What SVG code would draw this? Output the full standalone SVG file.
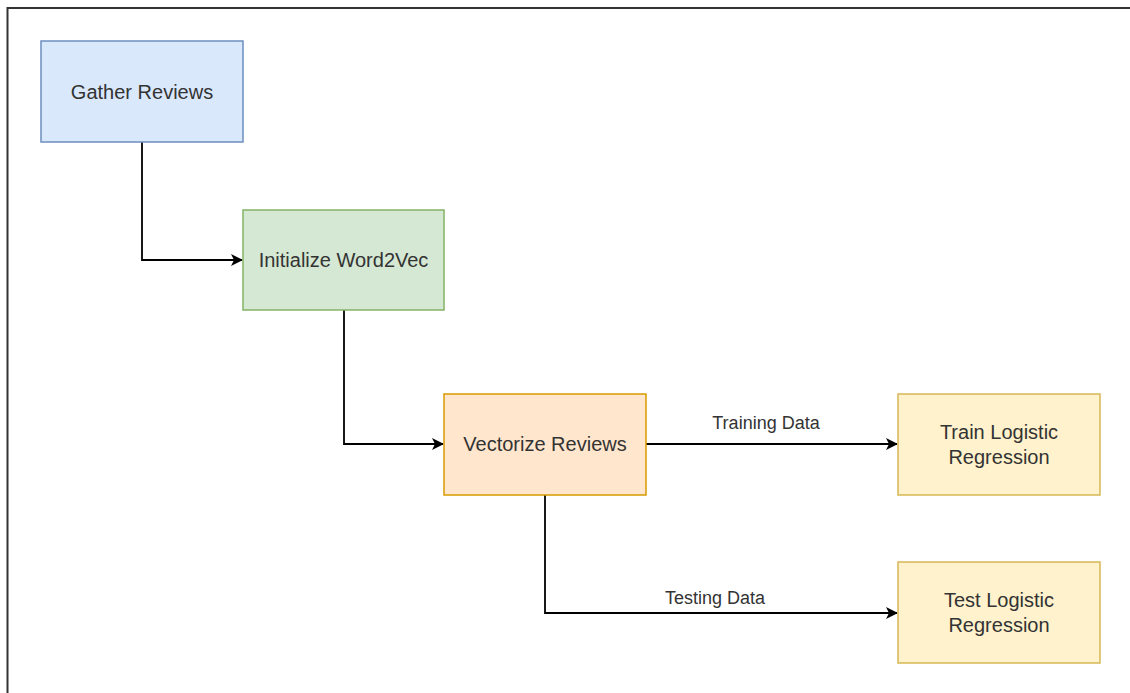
<svg xmlns="http://www.w3.org/2000/svg" width="1130" height="693" viewBox="0 0 1130 693">
  <style>
    .node rect { stroke-width: 1.5; }
    .node text { font-family: "Liberation Sans", Arial, sans-serif; font-size: 20px; fill: #333333; text-anchor: middle; dominant-baseline: central; }
    .edge { fill: none; stroke: #000000; stroke-width: 1.8; }
    .label { font-family: "Liberation Sans", Arial, sans-serif; font-size: 18px; fill: #333333; text-anchor: middle; }
    .blue { fill: #dae8fc; stroke: #6c8ebf; }
    .green { fill: #d5e8d4; stroke: #82b366; }
    .orange { fill: #ffe6cc; stroke: #d79b00; }
    .yellow { fill: #fff2cc; stroke: #d6b656; }
  </style>
  <defs>
    <marker id="arrow" viewBox="0 0 12 12" refX="11" refY="6" markerWidth="12" markerHeight="12" markerUnits="userSpaceOnUse" orient="auto">
      <path d="M0,0 L12,6 L0,12 L3,6 Z" fill="#000000"/>
    </marker>
  </defs>

  <rect x="0" y="0" width="1130" height="693" fill="#ffffff"/>
  <!-- outer frame -->
  <path d="M7.5,693 V8 H1130" fill="none" stroke="#333333" stroke-width="2"/>

  <g id="connectors">
    <path class="edge" d="M142,142 V260 H242" marker-end="url(#arrow)"/>
    <path class="edge" d="M344,310 V444 H443" marker-end="url(#arrow)"/>
    <path class="edge" d="M646,444 H897" marker-end="url(#arrow)"/>
    <path class="edge" d="M545,495 V613 H897" marker-end="url(#arrow)"/>
    <text class="label" x="766" y="429">Training Data</text>
    <text class="label" x="715" y="604">Testing Data</text>
  </g>

  <g id="gather-reviews" class="node">
    <rect class="blue" x="41" y="41" width="202" height="101"/>
    <text x="142" y="91.5">Gather Reviews</text>
  </g>
  <g id="initialize-word2vec" class="node">
    <rect class="green" x="243" y="210" width="201" height="100"/>
    <text x="343.5" y="260">Initialize Word2Vec</text>
  </g>
  <g id="vectorize-reviews" class="node">
    <rect class="orange" x="444" y="394" width="202" height="101"/>
    <text x="545" y="444">Vectorize Reviews</text>
  </g>
  <g id="train-logistic-regression" class="node">
    <rect class="yellow" x="898" y="394" width="202" height="101"/>
    <text x="999" y="432">Train Logistic</text>
    <text x="999" y="457">Regression</text>
  </g>
  <g id="test-logistic-regression" class="node">
    <rect class="yellow" x="898" y="562" width="202" height="101"/>
    <text x="999" y="600">Test Logistic</text>
    <text x="999" y="625">Regression</text>
  </g>
</svg>
